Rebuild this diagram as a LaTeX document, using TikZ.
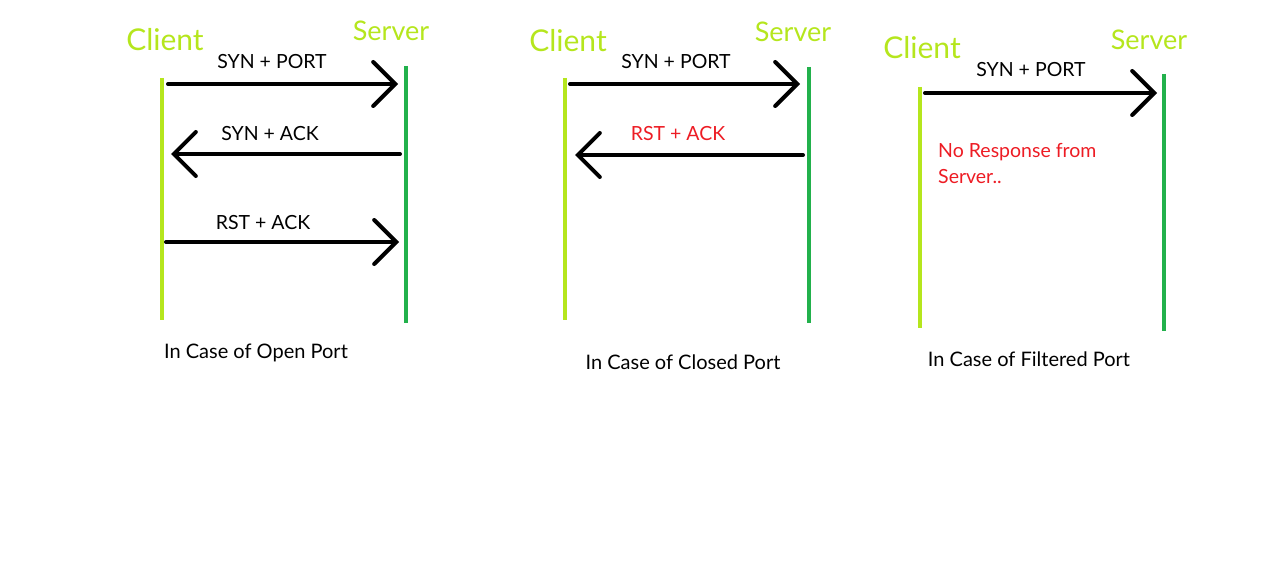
\documentclass[tikz,border=0pt]{standalone}
\usepackage{fontspec}
\setmainfont{Lato}
\usetikzlibrary{arrows.meta}
\definecolor{limegreen}{HTML}{B5E61D}
\definecolor{paintgreen}{HTML}{22B14C}
\definecolor{paintred}{HTML}{ED1C24}
\begin{document}
\begin{tikzpicture}[
    x=1pt, y=-1pt,
    client/.style={draw=limegreen, line width=4pt},
    server/.style={draw=paintgreen, line width=4pt},
    msg/.style={line width=4pt, line cap=round, -{Straight Barb[length=22pt, width=44pt, line cap=round]}},
    party/.style={text=limegreen, inner sep=0pt},
    msglabel/.style={font=\fontsize{19.5}{22}\selectfont, inner sep=0pt},
    caption/.style={font=\fontsize{20}{24}\selectfont, inner sep=0pt}
  ]
    \useasboundingbox (0,0) rectangle (1274,575);

    % Open port
    \node[party, font=\fontsize{30}{33}\selectfont] (cl1) at (165,40) {Client};
    \node[party, font=\fontsize{27}{30}\selectfont] (sv1) at (391,31) {Server};
    \coordinate (c1top) at (162,78);  \coordinate (c1bot) at (162,320);
    \coordinate (s1top) at (406,66);  \coordinate (s1bot) at (406,323);
    \draw[client] (c1top) -- (c1bot);
    \draw[server] (s1top) -- (s1bot);
    \coordinate (c1a) at (168,84);  \coordinate (s1a) at (398,84);
    \coordinate (s1b) at (400,154); \coordinate (c1b) at (171,154);
    \coordinate (c1c) at (166,242); \coordinate (s1c) at (399,242);
    \draw[msg] (c1a) -- (s1a);
    \draw[msg] (s1b) -- (c1b);
    \draw[msg] (c1c) -- (s1c);
    \node[msglabel] (m1a) at (272,62) {SYN + PORT};
    \node[msglabel] (m1b) at (270,134) {SYN + ACK};
    \node[msglabel] (m1c) at (263,223) {RST + ACK};
    \node[caption] (cap1) at (256,353) {In Case of Open Port};

    % Closed port
    \node[party, font=\fontsize{30}{33}\selectfont] (cl2) at (568,41) {Client};
    \node[party, font=\fontsize{27}{30}\selectfont] (sv2) at (793,32) {Server};
    \coordinate (c2top) at (565,78);  \coordinate (c2bot) at (565,320);
    \coordinate (s2top) at (809,67);  \coordinate (s2bot) at (809,323);
    \draw[client] (c2top) -- (c2bot);
    \draw[server] (s2top) -- (s2bot);
    \coordinate (c2a) at (570,84);  \coordinate (s2a) at (800,84);
    \coordinate (s2b) at (803,155); \coordinate (c2b) at (575,155);
    \draw[msg] (c2a) -- (s2a);
    \draw[msg] (s2b) -- (c2b);
    \node[msglabel] (m2a) at (676,62) {SYN + PORT};
    \node[msglabel, text=paintred] (m2b) at (678,134) {RST + ACK};
    \node[caption] (cap2) at (683,362) {In Case of Closed Port};

    % Filtered port
    \node[party, font=\fontsize{30}{33}\selectfont] (cl3) at (922,48) {Client};
    \node[party, font=\fontsize{27}{30}\selectfont] (sv3) at (1149,40) {Server};
    \coordinate (c3top) at (920,87);  \coordinate (c3bot) at (920,328);
    \coordinate (s3top) at (1164,74); \coordinate (s3bot) at (1164,331);
    \draw[client] (c3top) -- (c3bot);
    \draw[server] (s3top) -- (s3bot);
    \coordinate (c3a) at (925,93);  \coordinate (s3a) at (1157,93);
    \draw[msg] (c3a) -- (s3a);
    \node[msglabel] (m3a) at (1031,70) {SYN + PORT};
    \node[msglabel, text=paintred, anchor=north west, align=left,
          font=\fontsize{19.5}{26}\selectfont] (noresp) at (938,143)
          {No Response from\\Server..};
    \node[caption] (cap3) at (1029,359) {In Case of Filtered Port};
\end{tikzpicture}
\end{document}
